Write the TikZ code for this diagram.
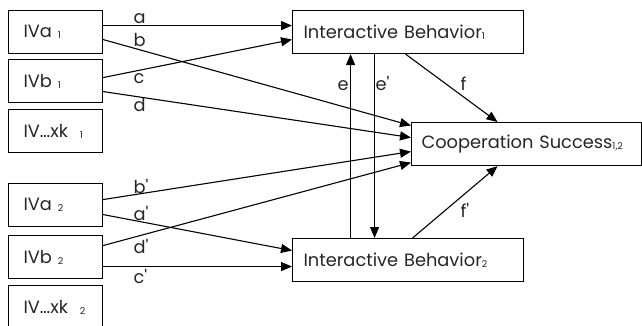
\documentclass[tikz,border=0pt]{standalone}
\usepackage{fontspec}
\setmainfont{Poppins}[Ligatures=TeXOff]
\usetikzlibrary{arrows.meta}
\newcommand{\sbs}[1]{\raisebox{-1pt}{\fontsize{9.5}{10}\selectfont #1}}
\newcommand{\ap}{\char"27}
\begin{document}
\begin{tikzpicture}[x=1pt,y=-1pt,line width=1.1pt,
  box/.style={draw, anchor=north west, minimum height=43pt, inner ysep=0pt, align=left, font=\fontsize{17.8}{18}\selectfont, text=black!85},
  ivbox/.style={box, inner xsep=15pt, text width=64pt},
  ibbox/.style={box, inner xsep=11pt, text width=209pt},
  csbox/.style={box, inner xsep=10pt, text width=210pt},
  lab/.style={anchor=base west, inner sep=0pt, font=\fontsize{17.8}{18}\selectfont, text=black!85},
  arr/.style={-{Triangle[length=11pt,width=9pt]}}]
\useasboundingbox (0,0) rectangle (642,325);
% boxes
\node[ivbox] (ivaA) at (8,10)  {IVa \sbs{1}};
\node[ivbox] (ivbA) at (8,59)  {IVb \sbs{1}};
\node[ivbox] (ivxA) at (8,109) {IV…xk \ \sbs{1}};
\node[ivbox] (ivaB) at (8,183) {IVa \sbs{2}};
\node[ivbox] (ivbB) at (8,235) {IVb \sbs{2}};
\node[ivbox] (ivxB) at (8,285) {IV…xk \ \sbs{2}};
\node[ibbox] (ibA) at (292,10)  {Interactive Behavior\sbs{1}};
\node[ibbox] (ibB) at (292,238) {Interactive Behavior\sbs{2}};
\node[csbox] (cs) at (411,122)  {Cooperation Success\sbs{1,2}};
% connectors
\draw[arr] ([yshift=6.5pt]ivaA.east) -- ([yshift=6.5pt]ibA.west);
\draw[arr] ([yshift=-7.5pt]ivaA.east) -- ([yshift=18.5pt]cs.west);
\draw[arr] ([yshift=3.5pt]ivbA.east) -- ([yshift=-7.5pt]ibA.west);
\draw[arr] ([yshift=-10.5pt]ivbA.east) -- ([yshift=6.5pt]cs.west);
\draw[arr] ([yshift=5.5pt]ivaB.east) -- ([yshift=-7.5pt]cs.west);
\draw[arr] ([yshift=-9.5pt]ivaB.east) -- ([yshift=9.5pt]ibB.west);
\draw[arr] ([yshift=11.5pt]ivbB.east) -- ([yshift=-18.5pt]cs.west);
\draw[arr] ([yshift=-9.5pt]ivbB.east) -- ([yshift=-6.5pt]ibB.west);
\draw[arr] ([xshift=-57.5pt]ibB.north) -- ([xshift=-57.5pt]ibA.south);
\draw[arr] ([xshift=-33.5pt]ibA.south) -- ([xshift=-33.5pt]ibB.north);
\draw[arr] ([xshift=-2.5pt]ibA.south) -- ([xshift=-29pt]cs.north);
\draw[arr] ([xshift=4.5pt]ibB.north) -- ([xshift=-29pt]cs.south);
% labels
\node[lab] (la) at (133,23) {a};
\node[lab] (lb) at (133,46) {b};
\node[lab] (lc) at (133,83) {c};
\node[lab] (ld) at (133,111) {d};
\node[lab] (lbp) at (133,193) {b\ap};
\node[lab] (lap) at (133,220) {a\ap};
\node[lab] (ldp) at (133,253) {d\ap};
\node[lab] (lcp) at (133,283) {c\ap};
\node[lab] (le) at (337,90) {e};
\node[lab] (lep) at (375,90) {e\ap};
\node[lab] (lf) at (460,90) {f};
\node[lab] (lfp) at (460,217) {f\ap};
\end{tikzpicture}
\end{document}
